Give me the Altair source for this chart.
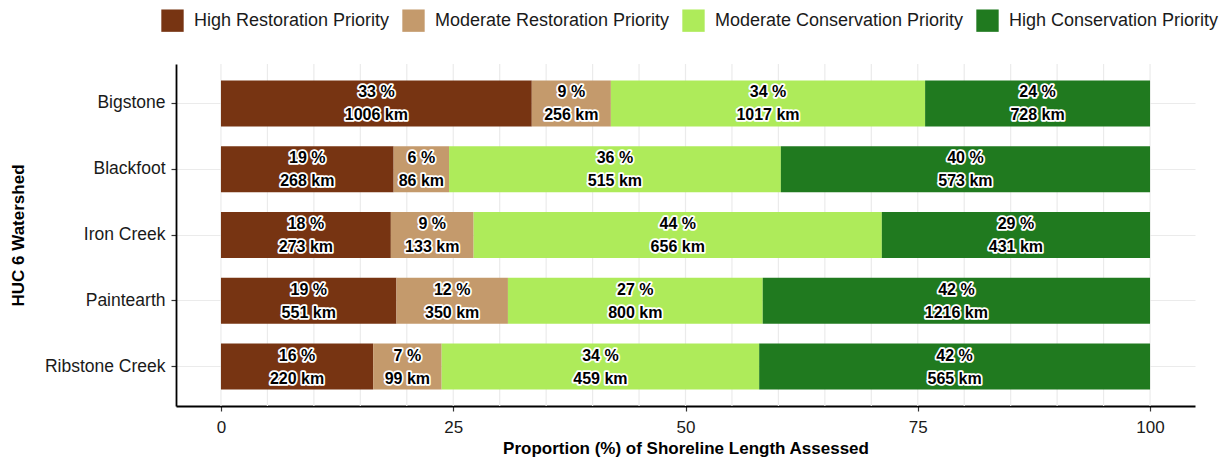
import altair as alt
import pandas as pd

watersheds = ["Bigstone", "Blackfoot", "Iron Creek", "Paintearth", "Ribstone Creek"]
categories = [
    "High Restoration Priority",
    "Moderate Restoration Priority",
    "Moderate Conservation Priority",
    "High Conservation Priority",
]
colors = ["#773412", "#C49A6C", "#AEEB5A", "#207A1F"]

high_restoration_km = [1006, 268, 273, 551, 220]
moderate_restoration_km = [256, 86, 133, 350, 99]
moderate_conservation_km = [1017, 515, 656, 800, 459]
high_conservation_km = [728, 573, 431, 1216, 565]

x_tick_values = [0, 25, 50, 75, 100]
x_grid_values = list(range(0, 101, 5))

series = [high_restoration_km, moderate_restoration_km, moderate_conservation_km, high_conservation_km]
rows = []
for i, w in enumerate(watersheds):
    total = sum(s[i] for s in series)
    cum = 0.0
    for c, s in zip(categories, series):
        pct = s[i] / total * 100
        rows.append({
            "watershed": w,
            "category": c,
            "km": s[i],
            "start": cum,
            "end": cum + pct,
            "mid": cum + pct / 2,
            "pct_label": f"{round(pct)} %",
            "km_label": f"{s[i]} km",
        })
        cum += pct
df = pd.DataFrame(rows)
grid_df = pd.DataFrame({"g": x_grid_values})

FONT = "Liberation Sans"
xscale = alt.Scale(domain=[-4.84, 104.84], nice=False, zero=False)
yscale = alt.Scale(domain=watersheds, paddingInner=0.3, paddingOuter=0.25)

x_axis = alt.Axis(
    values=x_tick_values, grid=False, title="Proportion (%) of Shoreline Length Assessed",
    titleFont=FONT, titleFontSize=17, titleFontWeight="bold", titleColor="#000000",
    titlePadding=5, labelFont=FONT, labelFontSize=17, labelColor="#1a1a1a",
    labelPadding=8, tickSize=5, tickColor="#333333", tickWidth=1.2,
    domainColor="#000000", domainWidth=1.8,
)
y_axis = alt.Axis(
    title="HUC 6 Watershed", titleFont=FONT, titleFontSize=17, titleFontWeight="bold",
    titleColor="#000000", titlePadding=17, labelFont=FONT, labelFontSize=17.5,
    labelColor="#1a1a1a", labelPadding=6, tickSize=5, tickColor="#333333", tickWidth=1.2,
    domainColor="#000000", domainWidth=1.8, grid=True, gridColor="#EBEBEB",
    gridWidth=1.2, bandPosition=0.5,
)

y_enc = alt.Y("watershed:N", sort=watersheds, scale=yscale, axis=y_axis)

rules = alt.Chart(grid_df).mark_rule(color="#EBEBEB", strokeWidth=1.2).encode(
    x=alt.X("g:Q", scale=xscale, axis=x_axis)
)

bars = alt.Chart(df).mark_bar(strokeWidth=0, opacity=1).encode(
    x=alt.X("start:Q", scale=xscale, axis=x_axis),
    x2="end:Q",
    y=y_enc,
    color=alt.Color(
        "category:N",
        scale=alt.Scale(domain=categories, range=colors),
        legend=alt.Legend(
            title=None, orient="none", legendX=-15, legendY=-55, direction="horizontal",
            symbolType="square", symbolSize=500, symbolStrokeWidth=0, symbolOpacity=1,
            labelFont=FONT, labelFontSize=18, labelColor="#1a1a1a", labelOffset=10,
            labelLimit=0, columnPadding=12, padding=0, columns=4,
        ),
    ),
)

def label_layer(field, dy, halo):
    kw = dict(font=FONT, fontSize=16, fontWeight="bold", dy=dy, align="center", baseline="middle")
    if halo:
        kw.update(fill="white", stroke="white", strokeWidth=3.5, strokeJoin="round")
    else:
        kw.update(fill="black")
    return alt.Chart(df).mark_text(**kw).encode(
        x=alt.X("mid:Q", scale=xscale, axis=x_axis),
        y=y_enc,
        text=f"{field}:N",
    )

chart = alt.layer(
    rules, bars,
    label_layer("pct_label", -11, True), label_layer("km_label", 12, True),
    label_layer("pct_label", -11, False), label_layer("km_label", 12, False),
).properties(
    width=1019, height=342,
    padding={"left": 168, "top": 56, "right": 26, "bottom": 52},
    autosize=alt.AutoSizeParams(type="none"),
    background="white",
).configure_view(stroke=None)

chart.save("out.html", embed_options={"renderer": "svg", "actions": False})
